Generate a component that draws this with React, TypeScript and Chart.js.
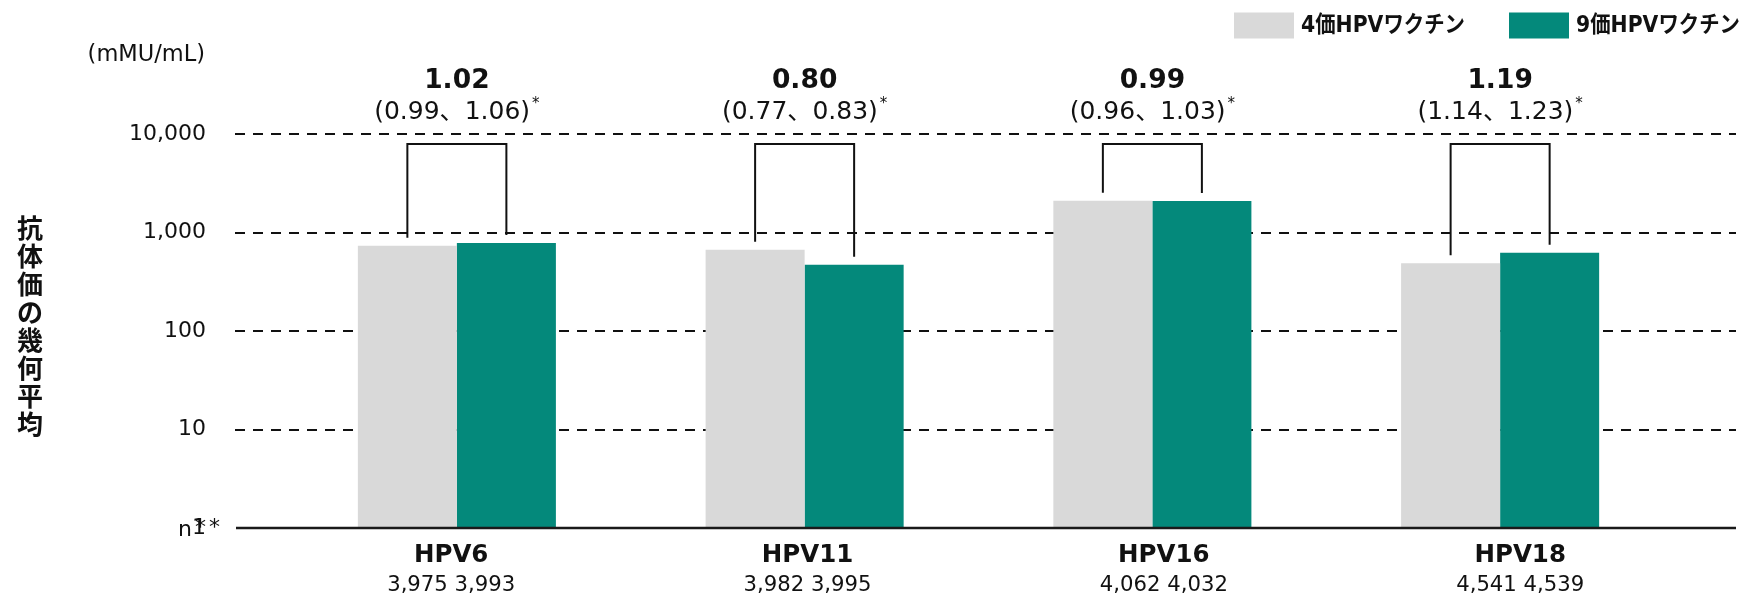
import React, { useEffect, useRef } from 'react';
import { Chart, registerables } from 'chart.js';

Chart.register(...registerables);

// ---- data ----
const categories = ['HPV6', 'HPV11', 'HPV16', 'HPV18'];
const gmt4v = [735, 669, 2096, 486];
const gmt9v = [782, 471, 2090, 624];
const ratios = ['1.02', '0.80', '0.99', '1.19'];
const ciLabels = ['(0.99、1.06)', '(0.77、0.83)', '(0.96、1.03)', '(1.14、1.23)'];
const n4v = ['3,975', '3,982', '4,062', '4,541'];
const n9v = ['3,993', '3,995', '4,032', '4,539'];
const yTicks = [1, 10, 100, 1000, 10000];
const seriesNames = ['4価HPVワクチン', '9価HPVワクチン'];
const yTitle = '抗体価の幾何平均';
const unitLabel = '(mMU/mL)';
const nLabel = 'n';
const starLabel = '*';

const GRAY = '#D9D9D9';
const TEAL = '#04897B';
const INK = '#111111';
const LATIN = "'DejaVu Sans', 'Noto Sans CJK JP', sans-serif";
const CJK = "'Noto Sans CJK JP', 'DejaVu Sans', sans-serif";
const TICK_PAD = 77;

const overlay = {
  id: 'overlay',
  beforeDatasetsDraw(chart: any) {
    const { ctx, chartArea, scales } = chart;
    const y = scales.y;
    ctx.save();
    ctx.strokeStyle = INK;
    ctx.lineWidth = 2;
    ctx.setLineDash([10, 8]);
    for (const v of yTicks.slice(1)) {
      const py = Math.round(y.getPixelForValue(v));
      ctx.beginPath();
      ctx.moveTo(chartArea.left - 48, py);
      ctx.lineTo(chartArea.right + 62, py);
      ctx.stroke();
    }
    ctx.restore();
  },
  afterDatasetsDraw(chart: any) {
    const { ctx, chartArea, scales } = chart;
    const x = scales.x;
    const y = scales.y;
    ctx.save();

    // baseline
    ctx.setLineDash([]);
    ctx.strokeStyle = '#1a1a1a';
    ctx.lineWidth = 2.6;
    const by = y.getPixelForValue(1);
    ctx.beginPath();
    ctx.moveTo(chartArea.left - 47, by);
    ctx.lineTo(chartArea.right + 62, by);
    ctx.stroke();

    // brackets
    const m0 = chart.getDatasetMeta(0);
    const m1 = chart.getDatasetMeta(1);
    ctx.strokeStyle = INK;
    ctx.lineWidth = 2;
    const topY = chartArea.top + 10;
    for (let i = 0; i < categories.length; i++) {
      const a = m0.data[i];
      const b = m1.data[i];
      ctx.beginPath();
      ctx.moveTo(a.x, a.y - 8);
      ctx.lineTo(a.x, topY);
      ctx.lineTo(b.x, topY);
      ctx.lineTo(b.x, b.y - 8);
      ctx.stroke();
    }

    // ratios + CI
    ctx.fillStyle = INK;
    ctx.textBaseline = 'alphabetic';
    for (let i = 0; i < categories.length; i++) {
      const cx = x.getPixelForValue(i);
      ctx.textAlign = 'center';
      ctx.font = `bold 26.5px ${LATIN}`;
      ctx.fillText(ratios[i], cx, chartArea.top - 46);
      ctx.font = `25px ${LATIN}`;
      const wMain = ctx.measureText(ciLabels[i]).width;
      ctx.font = `15px ${LATIN}`;
      const wStar = ctx.measureText(starLabel).width;
      const start = cx - (wMain + wStar + 2) / 2;
      ctx.textAlign = 'left';
      ctx.font = `25px ${LATIN}`;
      ctx.fillText(ciLabels[i], start, chartArea.top - 15);
      ctx.font = `15px ${LATIN}`;
      ctx.fillText(starLabel, start + wMain + 2, chartArea.top - 26);
    }

    // x labels (slightly wider spacing than the bar groups, as in the source)
    ctx.textAlign = 'center';
    for (let i = 0; i < categories.length; i++) {
      const cx = x.getPixelForValue(i);
      const lx = chartArea.left + (cx - chartArea.left) * 1.0247 - 10;
      ctx.font = `bold 24.5px ${LATIN}`;
      ctx.fillText(categories[i], lx, by + 34);
      ctx.font = `21.2px ${LATIN}`;
      ctx.fillText(`${n4v[i]} ${n9v[i]}`, lx, by + 63);
    }

    // n** label at baseline
    const R = chartArea.left - TICK_PAD;
    ctx.textAlign = 'left';
    ctx.font = `22px ${LATIN}`;
    ctx.fillText(nLabel, R - 28, by + 8);
    ctx.fillText(starLabel, R - 11, by + 6);
    ctx.fillText(starLabel, R + 3, by + 6);

    // unit
    ctx.textAlign = 'right';
    ctx.textBaseline = 'middle';
    ctx.font = `22.5px ${LATIN}`;
    ctx.fillText(unitLabel, 205, 55);

    // y title (vertical, stacked)
    ctx.textAlign = 'center';
    ctx.font = `bold 26px ${CJK}`;
    const chars = Array.from(yTitle);
    const midY = (chartArea.top + chartArea.bottom) / 2;
    const pitch = 28;
    const firstY = midY - (pitch * (chars.length - 1)) / 2 - 5;
    chars.forEach((c, i) => ctx.fillText(c, 30, firstY + pitch * i));

    // legend
    const legendX = [1234, 1509];
    const colors = [GRAY, TEAL];
    ctx.textAlign = 'left';
    ctx.font = `bold 23px ${LATIN}`;
    for (let i = 0; i < 2; i++) {
      ctx.fillStyle = colors[i];
      ctx.fillRect(legendX[i], 12.5, 60, 26);
      ctx.fillStyle = INK;
      const w = ctx.measureText(seriesNames[i]).width;
      const sx = Math.min(1, 164 / w);
      ctx.save();
      ctx.translate(legendX[i] + 67, 26);
      ctx.scale(sx, 1);
      ctx.fillText(seriesNames[i], 0, 0);
      ctx.restore();
    }
    ctx.restore();
  },
};

export default function App() {
  const ref = useRef<HTMLCanvasElement | null>(null);
  useEffect(() => {
    if (!ref.current) return;
    const chart = new Chart(ref.current, {
      type: 'bar',
      data: {
        labels: categories,
        datasets: [
          { label: seriesNames[0], data: gmt4v, backgroundColor: GRAY, borderWidth: 0 },
          { label: seriesNames[1], data: gmt9v, backgroundColor: TEAL, borderWidth: 0 },
        ],
      },
      options: {
        animation: false,
        responsive: true,
        maintainAspectRatio: false,
        layout: { padding: { top: 134, right: 69, bottom: 68, left: 0 } },
        datasets: { bar: { categoryPercentage: 0.5695, barPercentage: 1 } },
        plugins: { legend: { display: false }, tooltip: { enabled: false } },
        scales: {
          x: { type: 'category', display: false, offset: true },
          y: {
            type: 'logarithmic',
            min: 1,
            max: 10000,
            position: 'left',
            grid: { display: false, drawTicks: false },
            border: { display: false },
            afterFit: (s: any) => {
              s.width = 283;
              s.paddingTop = 0;
              s.paddingBottom = 0;
            },
            afterBuildTicks: (s: any) => { s.ticks = yTicks.map((v) => ({ value: v })); },
            ticks: {
              padding: TICK_PAD,
              color: INK,
              font: { family: LATIN, size: 22 },
              callback: (v: any) => Number(v).toLocaleString('en-US'),
            },
          },
        } as any,
      },
      plugins: [overlay],
    });
    return () => chart.destroy();
  }, []);
  return (
    <div style={{ position: 'absolute', left: 0, top: 0, width: 1743, height: 596 }}>
      <canvas ref={ref} />
    </div>
  );
}
